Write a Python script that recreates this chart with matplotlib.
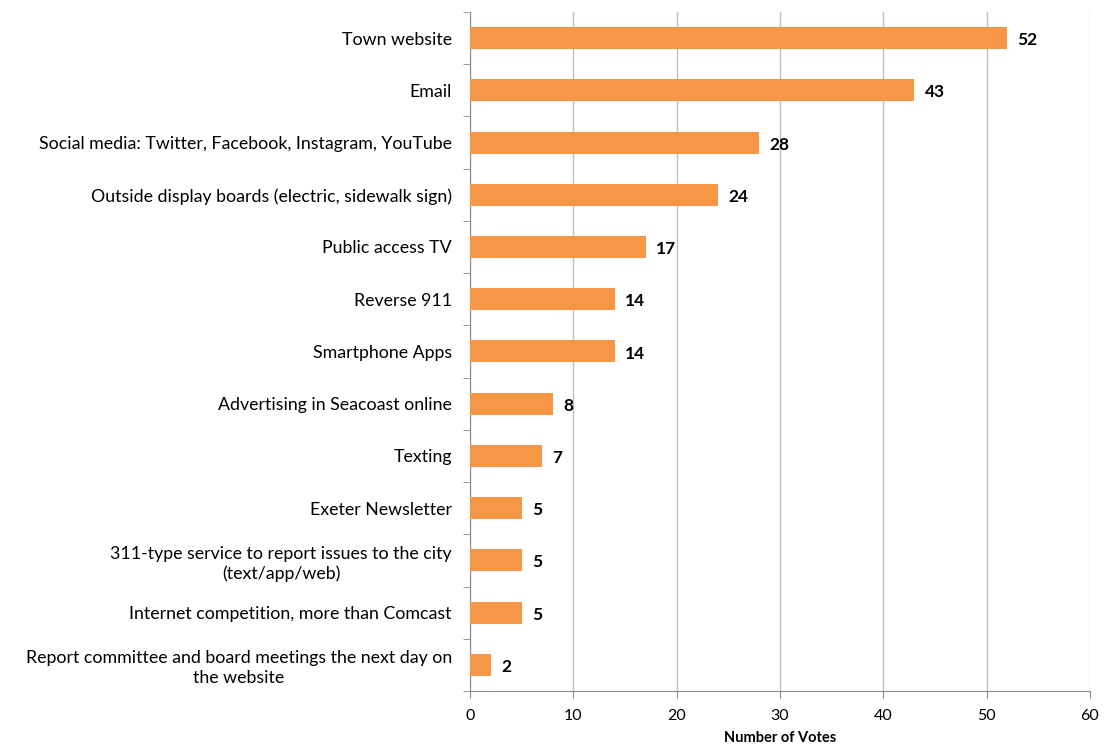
import numpy as np
import matplotlib.pyplot as plt

plt.rcParams['font.family'] = ['Lato', 'DejaVu Sans']

categories = [
    "Town website",
    "Email",
    "Social media: Twitter, Facebook, Instagram, YouTube",
    "Outside display boards (electric, sidewalk sign)",
    "Public access TV",
    "Reverse 911",
    "Smartphone Apps",
    "Advertising in Seacoast online",
    "Texting",
    "Exeter Newsletter",
    "311-type service to report issues to the city\n(text/app/web)",
    "Internet competition, more than Comcast",
    "Report committee and board meetings the next day on\nthe website",
]
votes = [52, 43, 28, 24, 17, 14, 14, 8, 7, 5, 5, 5, 2]
x_ticks = [0, 10, 20, 30, 40, 50, 60]

fig = plt.figure(figsize=(11.06, 7.47), dpi=100)
ax = fig.add_axes([0.425, 0.075, 0.5605, 0.909])

y = np.arange(len(categories))
ax.barh(y, votes, height=0.42, color='#F79646', zorder=3)

# value labels at the end of each bar
for yi, v in zip(y, votes):
    ax.text(v + 1.0, yi + 0.04, str(v), va='center', ha='left',
            fontsize=12.5, fontweight='bold', color='black', zorder=4)

ax.set_ylim(len(categories) - 0.5, -0.5)
ax.set_xlim(0, 60)
ax.set_xticks(x_ticks)
ax.set_xticklabels([str(t) for t in x_ticks], fontsize=11.5)

ax.set_yticks(y)
ax.set_yticklabels(categories, fontsize=12.8, multialignment='center',
                   linespacing=1.25)
ax.tick_params(axis='y', which='major', length=0, pad=13)
ax.set_yticks(np.arange(len(categories) + 1) - 0.5, minor=True)
ax.tick_params(axis='y', which='minor', length=5, color='#8C8C8C', direction='out')
ax.tick_params(axis='x', which='major', length=5, color='#8C8C8C', pad=8)

ax.grid(axis='x', color='#BFBFBF', linewidth=1.0, zorder=0)
for s in ['top', 'right']:
    ax.spines[s].set_visible(False)
for s in ['left', 'bottom']:
    ax.spines[s].set_color('#8C8C8C')

ax.set_xlabel('Number of Votes', fontsize=10.5, fontweight='bold', labelpad=6)

fig.savefig('out.png', dpi=100)
